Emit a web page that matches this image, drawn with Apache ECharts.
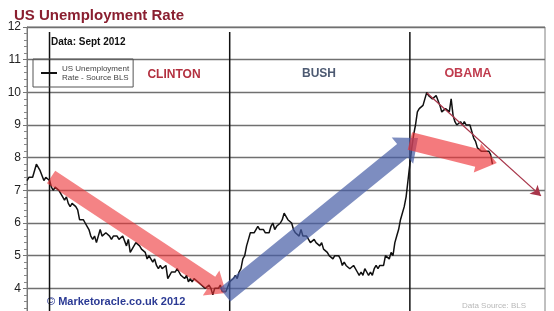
<!DOCTYPE html>
<html><head><meta charset="utf-8">
<script src="https://cdn.jsdelivr.net/npm/echarts@6/dist/echarts.min.js"></script>
<style>html,body{margin:0;padding:0;background:#fff}#c{width:554px;height:311px}</style>
</head><body><div id="c"></div><script>
// ---- data ----
const startYear = 1992; // monthly series starts Jan 1992
const rates1992 = [7.3,7.4,7.4,7.4,7.6,7.8,7.7,7.6,7.6,7.3,7.4,7.4];
const ratesClinton = [
  7.3,7.1,7.0,7.1,7.1,7.0,6.9,6.8,6.7,6.8,6.6,6.5,
  6.6,6.6,6.5,6.4,6.1,6.1,6.1,6.0,5.9,5.8,5.6,5.5,
  5.6,5.4,5.4,5.8,5.6,5.6,5.7,5.7,5.6,5.5,5.6,5.6,
  5.6,5.5,5.5,5.6,5.6,5.3,5.5,5.1,5.2,5.2,5.4,5.4,
  5.3,5.2,5.2,5.1,4.9,5.0,4.9,4.8,4.9,4.7,4.6,4.7,
  4.6,4.6,4.7,4.3,4.4,4.5,4.5,4.5,4.6,4.5,4.4,4.4,
  4.3,4.4,4.2,4.3,4.2,4.3,4.3,4.2,4.2,4.1,4.1,4.0,
  4.0,4.1,4.0,3.8,4.0,4.0,4.0,4.1,3.9,3.9,3.9,3.9];
const ratesBush = [
  4.2,4.2,4.3,4.4,4.3,4.5,4.6,4.9,5.0,5.3,5.5,5.7,
  5.7,5.7,5.7,5.9,5.8,5.8,5.8,5.7,5.7,5.7,5.9,6.0,
  5.8,5.9,5.9,6.0,6.1,6.3,6.2,6.1,6.1,6.0,5.8,5.7,
  5.7,5.6,5.8,5.6,5.6,5.6,5.5,5.4,5.4,5.5,5.4,5.4,
  5.3,5.4,5.2,5.2,5.1,5.0,5.0,4.9,5.0,5.0,5.0,4.9,
  4.7,4.8,4.7,4.7,4.6,4.6,4.7,4.7,4.5,4.4,4.5,4.4,
  4.6,4.5,4.4,4.5,4.4,4.6,4.7,4.6,4.7,4.7,4.7,5.0,
  5.0,4.9,5.1,5.0,5.4,5.6,5.8,6.1,6.1,6.5,6.8,7.3];
const ratesObama = [
  7.8,8.3,8.7,9.0,9.4,9.5,9.5,9.6,9.8,10.0,9.9,9.9,
  9.8,9.8,9.9,9.9,9.6,9.4,9.4,9.5,9.5,9.4,9.8,9.3,
  9.1,9.0,9.0,9.1,9.0,9.1,9.0,9.0,9.0,8.8,8.6,8.5,
  8.3,8.3,8.2,8.2,8.2,8.2,8.2,8.1,7.8];
const termStarts = [1993, 2001, 2009];
const termLineTop = 11.85;
const yTicks = [3,4,5,6,7,8,9,10,11,12];
// arrows: [tail, tip] in [year, rate]
const clintonArrow = [[1993.07, 7.41], [2000.84, 3.86]];
const bushArrow    = [[2000.79, 3.80], [2009.36, 8.60]];
const obamaArrow   = [[2009.00, 8.51], [2012.86, 7.84]];
const trendArrow   = [[2009.76, 9.98], [2014.82, 6.83]];

// ---- build ----
const allRates = rates1992.concat(ratesClinton, ratesBush, ratesObama);
const lineData = allRates.map((v, i) => [startYear + i / 12, v]);
const seriesName = 'US Unemployment\nRate - Source BLS';

function arrowSeries(path, look) {
  return {
    type: 'custom', z: look.z, silent: true, clip: false,
    data: [[path[0][0], path[0][1], path[1][0], path[1][1]]],
    encode: { x: [0, 2], y: [1, 3] },
    renderItem(params, api) {
      const a = api.coord([api.value(0), api.value(1)]);
      const b = api.coord([api.value(2), api.value(3)]);
      const dx = b[0] - a[0], dy = b[1] - a[1], L = Math.hypot(dx, dy);
      const ux = dx / L, uy = dy / L, nx = -uy, ny = ux;
      const bx = b[0] - ux * look.headLen, by = b[1] - uy * look.headLen;
      const w = look.shaft / 2, h = look.head / 2;
      const pts = [
        [a[0] + nx * w, a[1] + ny * w], [bx + nx * w, by + ny * w],
        [bx + nx * h, by + ny * h], [b[0], b[1]],
        [bx - nx * h, by - ny * h], [bx - nx * w, by - ny * w],
        [a[0] - nx * w, a[1] - ny * w]];
      return { type: 'polygon', shape: { points: pts }, style: { fill: look.fill } };
    }
  };
}

const termSeries = termStarts.map(t => ({
  type: 'line', silent: true, symbol: 'none', z: 3,
  data: [[t, termLineTop], [t, 3]],
  lineStyle: { color: '#111', width: 1.5 }
}));

const chart = echarts.init(document.getElementById('c'), null, { renderer: 'canvas' });
chart.setOption({
  animation: false,
  backgroundColor: '#fff',
  grid: { left: 27, right: 9, top: 27, bottom: -10, outerBoundsMode: 'none', containLabel: false, show: true, borderColor: '#808080', borderWidth: 1 },
  xAxis: {
    type: 'value', min: 1992, max: 2015,
    axisLine: { show: false }, axisTick: { show: false }, axisLabel: { show: false }, splitLine: { show: false }
  },
  yAxis: {
    type: 'value', min: yTicks[0], max: yTicks[yTicks.length - 1], interval: 1,
    axisLine: { show: true, lineStyle: { color: '#777', width: 1 } },
    axisTick: { show: true, length: 4, lineStyle: { color: '#777' } },
    minorTick: { show: true, splitNumber: 5, length: 3, lineStyle: { color: '#888' } },
    axisLabel: { color: '#222', fontSize: 12, fontFamily: 'Liberation Sans, Arial, sans-serif', margin: 6 },
    splitLine: { show: true, lineStyle: { color: '#707070', width: 1.3 } }
  },
  legend: {
    data: [seriesName], left: 33, top: 59, orient: 'vertical',
    padding: [5, 4, 5, 8], borderColor: '#555', borderWidth: 1,
    itemWidth: 16, itemHeight: 2, icon: 'rect', selectedMode: false,
    textStyle: { fontSize: 8, lineHeight: 9, color: '#444', fontFamily: 'Liberation Sans, Arial, sans-serif' }
  },
  title: {
    text: 'US Unemployment Rate', left: 9, top: 3,
    textStyle: { color: '#8a1f30', fontSize: 15, fontWeight: 'bold', fontFamily: 'Liberation Sans, Arial, sans-serif' }
  },
  graphic: [
    { type: 'text', left: 51, top: 37, style: { text: 'Data: Sept 2012', fill: '#111', font: 'bold 10px "Liberation Sans", Arial, sans-serif' } },
    { type: 'text', x: 174, y: 75, style: { text: 'CLINTON', fill: '#b3303f', align: 'center', verticalAlign: 'middle', font: 'bold 12px "Liberation Sans", Arial, sans-serif' } },
    { type: 'text', x: 319, y: 74, style: { text: 'BUSH', fill: '#4d5a72', align: 'center', verticalAlign: 'middle', font: 'bold 12px "Liberation Sans", Arial, sans-serif' } },
    { type: 'text', x: 468, y: 74, style: { text: 'OBAMA', fill: '#c03c4e', align: 'center', verticalAlign: 'middle', font: 'bold 12.5px "Liberation Sans", Arial, sans-serif' } },
    { type: 'text', left: 47, top: 296, style: { text: '\u00A9 Marketoracle.co.uk 2012', fill: '#2b3a94', font: 'bold 11px "Liberation Sans", Arial, sans-serif' } },
    { type: 'text', left: 462, top: 302, style: { text: 'Data Source: BLS', fill: '#b8b8b8', font: '8px "Liberation Sans", Arial, sans-serif' } }
  ],
  series: [
    {
      name: seriesName, type: 'line', symbol: 'none', z: 2,
      data: lineData,
      lineStyle: { color: '#111', width: 1.5 },
      itemStyle: { color: '#111' }
    },
    ...termSeries,
    arrowSeries(clintonArrow, { fill: 'rgba(236,48,52,0.6)', shaft: 15, head: 30, headLen: 18, z: 4 }),
    arrowSeries(bushArrow, { fill: 'rgba(70,92,165,0.7)', shaft: 17, head: 34, headLen: 20, z: 5 }),
    arrowSeries(obamaArrow, { fill: 'rgba(238,50,55,0.65)', shaft: 18, head: 30, headLen: 20, z: 6 }),
    {
      type: 'line', silent: true, symbol: 'none', z: 7, data: [],
      markLine: {
        silent: true, symbol: ['none', 'arrow'], symbolSize: [9, 10],
        label: { show: false },
        lineStyle: { color: '#a8364a', width: 1.3, type: 'solid' },
        itemStyle: { color: '#e07080' },
        data: [[{ coord: trendArrow[0] }, { coord: trendArrow[1] }]]
      }
    }
  ]
});
</script></body></html>
